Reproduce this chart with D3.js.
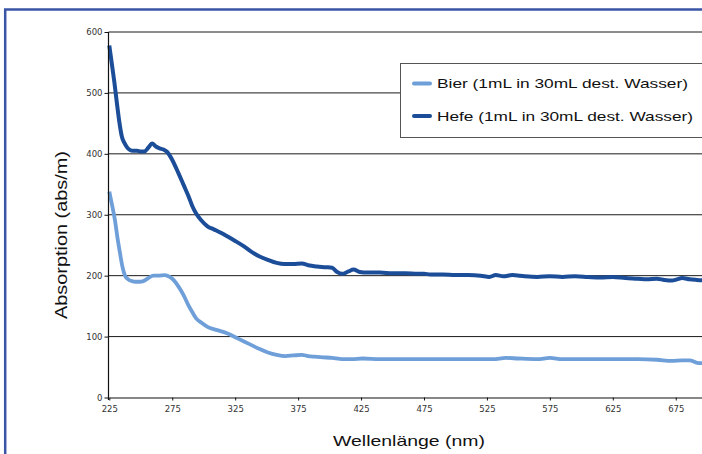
<!DOCTYPE html>
<meta charset="utf-8">
<style>
  body { margin: 0; background: #fff; overflow: hidden; }
  svg { display: block; }
</style>
<script src="https://d3js.org/d3.v7.min.js"></script>
<div id="chart"></div>
<script>
// series (nm, abs/m)
var hefeNm = [225, 227, 229, 231, 233, 235, 237, 239, 241, 244, 247, 250, 253, 256, 259, 262, 265, 268, 271, 275, 280,
  284, 288, 291, 294, 298, 303, 308, 314, 320, 325, 332, 338, 344, 351, 358, 364, 371, 378, 383, 390,
  397, 402, 406, 410, 415, 419, 424, 430, 440, 450, 460, 470, 475, 480, 490, 500, 510, 520, 527, 532,
  538, 545, 555, 565, 575, 585, 595, 605, 615, 625, 635, 645, 652, 660, 666, 672, 676, 680, 686, 692, 700];
var hefeValues = [578, 548, 518, 484, 452, 428, 418, 411, 407, 405, 405, 404, 404, 410, 417, 412, 409, 407, 403, 390, 368,
  349, 330, 314, 302, 291, 281, 276, 270, 263, 257, 248, 239, 232, 226, 221, 219, 219, 220, 217, 215,
  214, 213, 206, 203, 207, 210, 206, 205, 205, 204, 204, 203, 203, 202, 202, 201, 201, 200, 198, 201,
  199, 201, 199, 198, 199, 198, 199, 198, 197, 198, 196, 195, 194, 195, 193, 192, 194, 196, 194, 193, 192];

var bierNm = [225, 227, 229.5, 231.5, 233.5, 235.5, 237.5, 240, 243, 246, 249, 252, 256, 260, 264, 269, 273, 276, 280, 284,
  288, 291, 294, 298, 303, 310, 319, 327, 332, 338, 344, 351, 358, 365, 371, 378, 383, 388, 395, 402,
  410, 418, 426, 440, 455, 470, 485, 500, 515, 530, 540, 550, 565, 575, 585, 600, 615, 630, 645, 660,
  672, 680, 686, 692, 700];
var bierValues = [338, 318, 291, 262, 237, 214, 200, 194, 191, 190, 190, 191, 196, 200, 200, 201, 198, 193, 182, 168,
  151, 140, 130, 123, 116, 111, 105, 97, 92, 86, 80, 74, 70, 68, 69, 70, 68, 67, 66, 65,
  63, 63, 64, 63, 63, 63, 63, 63, 63, 63, 65, 64, 63, 65, 63, 63, 63, 63, 63, 62,
  60, 61, 61, 57, 56];

var xTicks = [225, 275, 325, 375, 425, 475, 525, 575, 625, 675];
var yTicks = [0, 100, 200, 300, 400, 500, 600];
var seriesNames = ["Bier (1mL in 30mL dest. Wasser)", "Hefe (1mL in 30mL dest. Wasser)"];
var seriesColors = ["#6f9fd9", "#1c4d98"];

var W = 702, H = 454;

var svg = d3.select("#chart").append("svg")
  .attr("width", W)
  .attr("height", H);

// outer frame: only its left and top edges are inside the picture
svg.append("path")
  .attr("d", "M5.2," + H + "V9.5H" + W)
  .attr("fill", "none")
  .attr("stroke", "#3a55a5")
  .attr("stroke-width", 2.5);

var x = d3.scaleLinear().domain([225, 710]).range([109.3, 719.8]);
var y = d3.scaleLinear().domain([0, 600]).range([397.5, 32]);

// gridlines
svg.append("g")
  .selectAll("line")
  .data(yTicks.filter(function(d) { return d > 0; }))
  .enter().append("line")
    .attr("x1", 108.5).attr("x2", W)
    .attr("y1", function(d) { return y(d); })
    .attr("y2", function(d) { return y(d); })
    .attr("stroke", "#1a1a1a")
    .attr("stroke-width", 1);

// lines
var line = d3.line()
  .x(function(d) { return x(d[0]); })
  .y(function(d) { return y(d[1]); })
  .curve(d3.curveMonotoneX);

svg.append("path")
  .datum(d3.zip(bierNm, bierValues))
  .attr("d", line)
  .attr("fill", "none")
  .attr("stroke", seriesColors[0])
  .attr("stroke-width", 3.8)
  .attr("stroke-linejoin", "round");

svg.append("path")
  .datum(d3.zip(hefeNm, hefeValues))
  .attr("d", line)
  .attr("fill", "none")
  .attr("stroke", seriesColors[1])
  .attr("stroke-width", 4)
  .attr("stroke-linejoin", "round");

// axes
var yAxis = svg.append("g")
  .attr("transform", "translate(108.5,0)")
  .call(d3.axisLeft(y).tickValues(yTicks).tickSize(4).tickSizeOuter(0).tickPadding(2));
var xAxis = svg.append("g")
  .attr("transform", "translate(0,397.5)")
  .call(d3.axisBottom(x).tickValues(xTicks).tickSize(3).tickSizeOuter(0).tickPadding(5));

[yAxis, xAxis].forEach(function(g) {
  g.select(".domain").attr("stroke", "#111").attr("stroke-width", 1.2);
  g.selectAll(".tick line").attr("stroke", "#111");
  g.selectAll("text")
    .attr("fill", "#333")
    .style("font-family", "'DejaVu Sans', sans-serif")
    .style("font-size", "8.5px");
});
yAxis.select(".domain").attr("d", "M0,32V400");

// legend
var legend = svg.append("g");
legend.append("rect")
  .attr("x", 400.5).attr("y", 63.5)
  .attr("width", 320).attr("height", 74)
  .attr("fill", "#fff")
  .attr("stroke", "#555")
  .attr("stroke-width", 1);

var legendY = [83.5, 116];
var legendLen = [251, 256];
seriesNames.forEach(function(name, i) {
  legend.append("line")
    .attr("x1", 414).attr("x2", 430)
    .attr("y1", legendY[i]).attr("y2", legendY[i])
    .attr("stroke", seriesColors[i])
    .attr("stroke-width", 4)
    .attr("stroke-linecap", "round");
  legend.append("text")
    .attr("x", 437).attr("y", legendY[i] + 4.5)
    .attr("textLength", legendLen[i])
    .attr("lengthAdjust", "spacingAndGlyphs")
    .style("font-family", "'Liberation Sans', Arial, sans-serif")
    .style("font-size", "13px")
    .attr("fill", "#111")
    .text(name);
});

// axis titles
svg.append("text")
  .attr("x", 409).attr("y", 446)
  .attr("text-anchor", "middle")
  .attr("textLength", 152)
  .attr("lengthAdjust", "spacingAndGlyphs")
  .style("font-family", "'Liberation Sans', Arial, sans-serif")
  .style("font-size", "15px")
  .attr("fill", "#111")
  .text("Wellenlänge (nm)");

svg.append("text")
  .attr("transform", "translate(67,235) rotate(-90)")
  .attr("text-anchor", "middle")
  .attr("textLength", 168)
  .attr("lengthAdjust", "spacingAndGlyphs")
  .style("font-family", "'Liberation Sans', Arial, sans-serif")
  .style("font-size", "16px")
  .attr("fill", "#111")
  .text("Absorption (abs/m)");
</script>
